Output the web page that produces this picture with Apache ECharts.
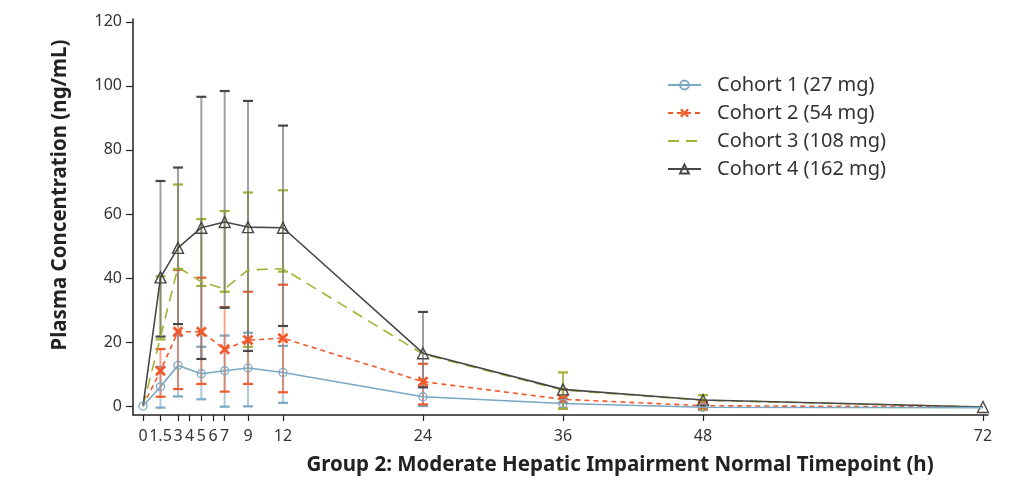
<!DOCTYPE html>
<html>
<head>
<meta charset="utf-8">
<script src="https://cdn.jsdelivr.net/npm/echarts@6/dist/echarts.min.js"></script>
<style>
  html, body { margin: 0; padding: 0; background: #fff; }
  #chart { width: 1013px; height: 481px; }
</style>
</head>
<body>
<div id="chart"></div>
<script>
// Sampling timepoints (h)
const times = [0, 1.5, 3, 5, 7, 9, 12, 24, 36, 48, 72];
const xTicks = [0, 1.5, 3, 4, 5, 6, 7, 9, 12, 24, 36, 48, 72];
const yTicks = [0, 20, 40, 60, 80, 100, 120];

const cohortNames = ['Cohort 1 (27 mg)', 'Cohort 2 (54 mg)', 'Cohort 3 (108 mg)', 'Cohort 4 (162 mg)'];

// Mean plasma concentration (ng/mL)
const c1Mean = [0, 6.0, 12.7, 10.1, 11.0, 11.9, 10.5, 2.9, 0.8, -0.4, -0.5];
const c2Mean = [0, 11.0, 23.2, 23.2, 17.7, 20.6, 21.2, 7.6, 2.1, 0.1, -0.3];
const c3Mean = [0, 21.5, 43.4, 38.8, 36.6, 42.5, 42.9, 16.2, 5.0, 1.8, -0.3];
const c4Mean = [0, 40.2, 49.4, 55.7, 57.5, 55.9, 55.7, 16.5, 5.2, 1.9, -0.3];

// Error bar limits (null = no bar drawn)
const c1Low  = [null, -0.5, 3.0, 2.1, -0.2, -0.1, 1.0, 0.0, -0.8, -1.2, null];
const c1High = [null, 12.2, 22.0, 18.5, 22.0, 22.9, 18.8, 5.8, 2.3, 0.5, null];
const c2Low  = [null, 2.9, 5.3, 6.9, 4.5, 6.9, 4.3, 0.5, -0.8, -1.0, null];
const c2High = [null, 17.8, 42.5, 40.1, 30.9, 35.7, 37.9, 13.2, 5.2, 1.5, null];
const c3Low  = [null, 20.8, 42.8, 37.5, 35.7, 18.5, 42.0, null, -0.8, -1.2, null];
const c3High = [null, 40.5, 69.2, 58.4, 60.9, 66.7, 67.4, null, 10.5, 3.4, null];
const c4Low  = [null, 21.7, 25.6, 14.7, 30.7, 17.2, 25.0, 5.9, null, null, null];
const c4High = [null, 70.3, 74.5, 96.6, 98.4, 95.3, 87.6, 29.4, null, null, null];

const FONT = 'Noto Sans';
const colors = {
  c1: '#7aa7c4', c1Stem: 'rgba(122,167,196,0.6)',
  c2: '#f2592a', c2Stem: 'rgba(242,89,42,0.55)',
  c3: '#a3b232', c3Stem: 'rgba(150,165,40,0.75)',
  c4: '#474747', c4Stem: 'rgba(120,120,120,0.7)'
};

const xSymbol = 'path://M0,1.8 L1.8,0 L5,3.2 L8.2,0 L10,1.8 L6.8,5 L10,8.2 L8.2,10 L5,6.8 L1.8,10 L0,8.2 L3.2,5 Z';

// hideAt: timepoints whose marker is left off (overlapping start/end points)
function pairs(means, hideAt) {
  return times.map((t, i) => {
    if (hideAt && hideAt.indexOf(t) >= 0) return { value: [t, means[i]], symbol: 'none' };
    return [t, means[i]];
  });
}

function errData(low, high) {
  const out = [];
  times.forEach((t, i) => {
    if (low[i] !== null && high[i] !== null) out.push([t, low[i], high[i]]);
  });
  return out;
}

function errorSeries(low, high, stem, cap, z) {
  return {
    type: 'custom',
    z: z,
    silent: true,
    encode: { x: 0, y: [1, 2] },
    data: errData(low, high),
    renderItem: function (params, api) {
      const x = api.value(0);
      const p1 = api.coord([x, api.value(1)]);
      const p2 = api.coord([x, api.value(2)]);
      const hw = 5;
      return {
        type: 'group',
        children: [
          { type: 'line', shape: { x1: p1[0], y1: p1[1], x2: p2[0], y2: p2[1] },
            style: { stroke: stem, lineWidth: 2 } },
          { type: 'line', shape: { x1: p1[0] - hw, y1: p1[1], x2: p1[0] + hw, y2: p1[1] },
            style: { stroke: cap, lineWidth: 2.2 } },
          { type: 'line', shape: { x1: p2[0] - hw, y1: p2[1], x2: p2[0] + hw, y2: p2[1] },
            style: { stroke: cap, lineWidth: 2.2 } }
        ]
      };
    }
  };
}

const chart = echarts.init(document.getElementById('chart'), null, { renderer: 'canvas' });

chart.setOption({
  backgroundColor: '#ffffff',
  animation: false,
  textStyle: { fontFamily: FONT },
  grid: { left: 133, right: 25, top: 19, bottom: 66, containLabel: false },
  legend: {
    orient: 'vertical',
    left: 662,
    top: 69,
    itemWidth: 33,
    itemHeight: 11,
    itemGap: 6,
    data: [
      { name: cohortNames[0] },
      { name: cohortNames[1] },
      { name: cohortNames[2], itemStyle: { opacity: 0 } },
      { name: cohortNames[3] }
    ],
    textStyle: { fontFamily: FONT, fontSize: 20, lineHeight: 22, color: '#333', padding: [0, 0, 0, 11] }
  },
  xAxis: {
    type: 'value',
    min: -0.857,
    max: 72.43,
    splitLine: { show: false },
    axisLine: { show: true, onZero: false, lineStyle: { color: '#222', width: 1.5 } },
    axisTick: { show: true, length: 6, lineStyle: { color: '#222', width: 1.2 }, customValues: xTicks },
    axisLabel: { fontFamily: FONT, fontSize: 16, color: '#333', margin: 13, customValues: xTicks }
  },
  yAxis: {
    type: 'value',
    min: -2.8,
    max: 120.9,
    splitLine: { show: false },
    axisLine: { show: true, onZero: false, lineStyle: { color: '#222', width: 1.5 } },
    axisTick: { show: true, length: 7, lineStyle: { color: '#222', width: 1.2 }, customValues: yTicks },
    axisLabel: { fontFamily: FONT, fontSize: 16, color: '#333', margin: 11, customValues: yTicks }
  },
  graphic: [
    {
      type: 'text',
      x: 60, y: 195,
      rotation: Math.PI / 2,
      style: {
        text: 'Plasma Concentration (ng/mL)',
        fontFamily: FONT, fontSize: 20.5, fontWeight: 'bold', fill: '#222',
        align: 'center', verticalAlign: 'middle'
      }
    },
    {
      type: 'text',
      x: 620, y: 465,
      style: {
        text: 'Group 2: Moderate Hepatic Impairment Normal Timepoint (h)',
        fontFamily: FONT, fontSize: 20.5, fontWeight: 'bold', fill: '#222',
        align: 'center', verticalAlign: 'middle'
      }
    }
  ],
  series: [
    errorSeries(c1Low, c1High, colors.c1Stem, colors.c1, 2),
    errorSeries(c2Low, c2High, colors.c2Stem, colors.c2, 3),
    errorSeries(c3Low, c3High, colors.c3Stem, colors.c3, 4),
    errorSeries(c4Low, c4High, colors.c4Stem, colors.c4, 5),
    {
      name: cohortNames[0], type: 'line', z: 9,
      data: pairs(c1Mean, [72]),
      symbol: 'circle', symbolSize: 8,
      itemStyle: { color: 'rgba(255,255,255,0)', borderColor: colors.c1, borderWidth: 1.3 },
      lineStyle: { color: colors.c1, width: 1.6 }
    },
    {
      name: cohortNames[1], type: 'line', z: 7,
      data: pairs(c2Mean, [0, 72]),
      symbol: xSymbol, symbolSize: 11,
      itemStyle: { color: colors.c2 },
      lineStyle: { color: colors.c2, width: 1.6, type: [5, 4] }
    },
    {
      name: cohortNames[2], type: 'line', z: 6,
      data: pairs(c3Mean),
      symbol: 'none',
      itemStyle: { color: colors.c3 },
      lineStyle: { color: colors.c3, width: 1.6, type: [11, 7] }
    },
    {
      name: cohortNames[3], type: 'line', z: 8,
      data: pairs(c4Mean, [0]),
      symbol: 'triangle', symbolSize: 11,
      itemStyle: { color: 'rgba(255,255,255,0)', borderColor: colors.c4, borderWidth: 1.4 },
      lineStyle: { color: colors.c4, width: 1.6 }
    }
  ]
});
</script>
</body>
</html>
